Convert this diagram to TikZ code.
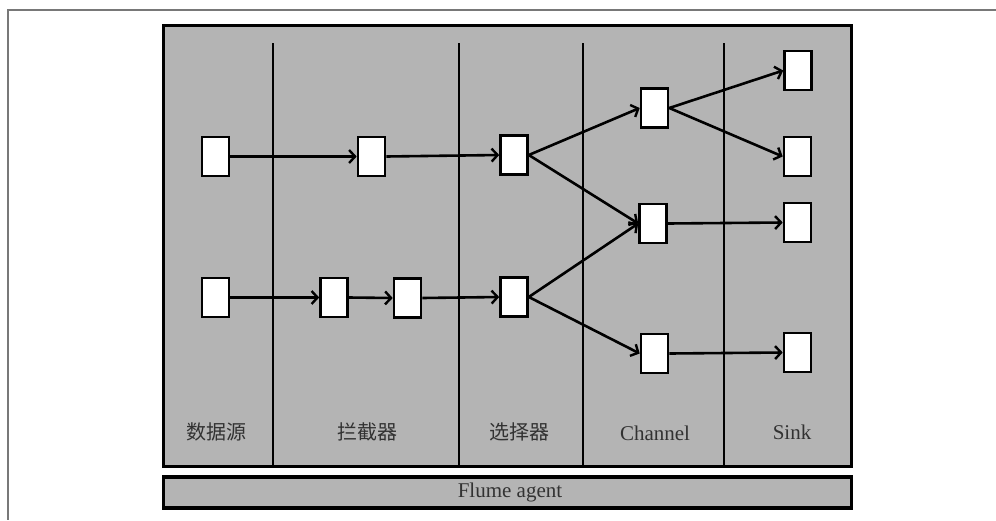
\documentclass[tikz,border=0pt]{standalone}
\usepackage{fontspec}
\setmainfont{Liberation Serif}
\newfontfamily\cjk{Noto Sans CJK SC}
\usetikzlibrary{arrows.meta}
\definecolor{panel}{RGB}{180,180,180}
\definecolor{labeltext}{RGB}{50,50,50}
\definecolor{framegray}{RGB}{120,120,120}
\tikzset{
  itembox/.style={draw=black, fill=white, line width=2.6pt, minimum width=27pt, minimum height=39pt, inner sep=0pt},
  flow/.style={line width=2.6pt, -{Straight Barb[length=6pt,width=13pt,line width=2.4pt]}},
  divider/.style={line width=2.4pt},
  lane/.style={text=labeltext, font=\fontsize{21}{21}\selectfont, inner sep=0pt},
  lanecjk/.style={text=labeltext, font=\cjk\fontsize{20}{20}\selectfont, inner sep=0pt}
}
\begin{document}
\begin{tikzpicture}[x=1pt,y=-1pt]
\useasboundingbox (0,0) rectangle (996,520);
% outer frame
\draw[framegray, line width=1.2pt] (996,10) -- (8,10) -- (8,520);
% main panel
\draw[fill=panel, line width=3.2pt] (163.5,25.5) rectangle (851.5,466.5);
\draw[fill=panel, line width=3.2pt] (163.5,477) rectangle (851.5,508);
% dividers
\coordinate (d1t) at (273,43); \coordinate (d1b) at (273,466);
\coordinate (d2t) at (459,43); \coordinate (d2b) at (459,466);
\coordinate (d3t) at (583,43); \coordinate (d3b) at (583,466);
\coordinate (d4t) at (724,43); \coordinate (d4b) at (724,466);
\draw[divider] (d1t) -- (d1b);
\draw[divider] (d2t) -- (d2b);
\draw[divider] (d3t) -- (d3b);
\draw[divider] (d4t) -- (d4b);
% boxes
\node[itembox] (s1) at (215.5,156.5) {};
\node[itembox] (s2) at (215.5,297.5) {};
\node[itembox] (i1) at (371.5,156.5) {};
\node[itembox] (i2) at (334,297.5) {};
\node[itembox] (i3) at (407.5,298) {};
\node[itembox] (x1) at (514,155) {};
\node[itembox] (x2) at (514,297) {};
\node[itembox] (c1) at (654.5,108) {};
\node[itembox] (c2) at (653,223.5) {};
\node[itembox] (c3) at (654.5,353.5) {};
\node[itembox] (k1) at (798,70.5) {};
\node[itembox] (k2) at (797.5,156.5) {};
\node[itembox] (k3) at (797.5,222.5) {};
\node[itembox] (k4) at (797.5,352.5) {};
% connectors
\draw[flow] (s1.east) -- (i1.west);
\draw[flow] (i1.east) -- (x1.west);
\draw[flow] (x1.east) -- (c1.west);
\draw[flow] (x1.east) -- (c2.west);
\draw[flow] (c1.east) -- (k1.west);
\draw[flow] (c1.east) -- (k2.west);
\draw[flow] (c2.east) -- (k3.west);
\draw[flow] (s2.east) -- (i2.west);
\draw[flow] (i2.east) -- (i3.west);
\draw[flow] (i3.east) -- (x2.west);
\draw[flow] (x2.east) -- (c2.west);
\draw[flow] (x2.east) -- (c3.west);
\draw[flow] (c3.east) -- (k4.west);
% labels
\node[lanecjk] (l1) at (216,432) {数据源};
\node[lanecjk] (l2) at (367,432) {拦截器};
\node[lanecjk] (l3) at (519,432) {选择器};
\node[lane] (l4) at (655,433) {Channel};
\node[lane] (l5) at (792,432) {Sink};
\node[lane] (agent) at (510,492) {Flume agent};
\end{tikzpicture}
\end{document}
